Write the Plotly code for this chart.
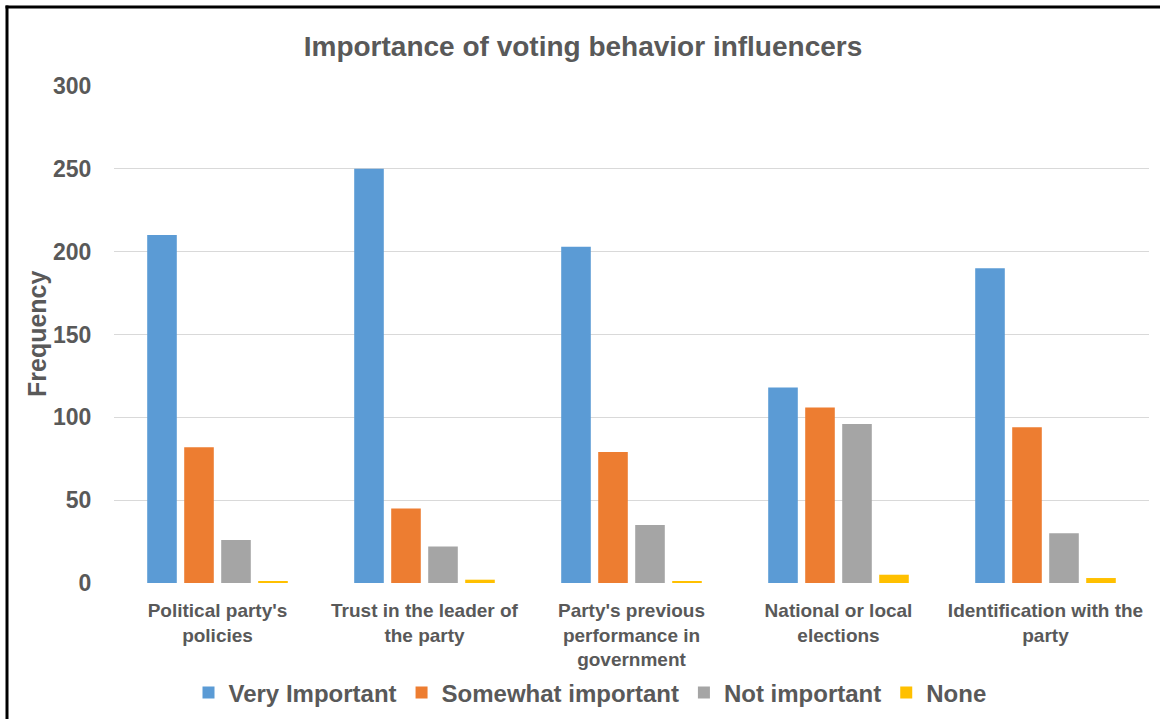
import plotly.graph_objects as go

# Survey responses: how important each factor is to respondents' vote
categories = [
    "Political party's<br>policies",
    "Trust in the leader of<br>the party",
    "Party's previous<br>performance in<br>government",
    "National or local<br>elections",
    "Identification with the<br>party",
]
very_important = [210, 250, 203, 118, 190]
somewhat_important = [82, 45, 79, 106, 94]
not_important = [26, 22, 35, 96, 30]
none_values = [1, 2, 1, 5, 3]

series = [
    ("Very Important", very_important, "#5B9BD5"),
    ("Somewhat important", somewhat_important, "#ED7D31"),
    ("Not important", not_important, "#A5A5A5"),
    ("None", none_values, "#FFC000"),
]

TEXT = "#595959"
FONT = "Liberation Sans, Arial, sans-serif"

W, H = 1160, 719
L, R, T, B = 114, 11, 86, 136
PW, PH = W - L - R, H - T - B


def px_x(x):
    return (x - L) / PW


def px_y(y):
    return (H - B - y) / PH


fig = go.Figure()
for name, vals, color in series:
    fig.add_trace(go.Bar(
        x=categories, y=vals, name=name,
        marker=dict(color=color, line=dict(width=0)),
    ))

fig.update_layout(
    width=W, height=H,
    margin=dict(l=L, r=R, t=T, b=B, autoexpand=False),
    paper_bgcolor="white", plot_bgcolor="white",
    barmode="group", bargap=0.285, bargroupgap=0.2,
    font=dict(family=FONT, color=TEXT),
    title=dict(
        text="Importance of voting behavior influencers",
        x=583 / W, xanchor="center", xref="container",
        y=1 - 46 / H, yanchor="middle", yref="container",
        font=dict(size=28, color=TEXT, family=FONT, weight="bold"),
    ),
    xaxis=dict(
        showgrid=False, showline=False, zeroline=False, automargin=False,
        ticks="outside", ticklen=10, tickcolor="rgba(0,0,0,0)",
        tickfont=dict(size=19, color=TEXT, family=FONT, weight="bold"),
    ),
    yaxis=dict(
        range=[0, 300], dtick=50, automargin=False,
        showgrid=True, gridcolor="#D9D9D9", gridwidth=1,
        zeroline=False, showline=False,
        ticks="outside", ticklen=17, tickcolor="rgba(0,0,0,0)",
        tickfont=dict(size=23, color=TEXT, family=FONT, weight="bold"),
    ),
    legend=dict(
        orientation="h", x=px_x(590), xanchor="center",
        y=px_y(693), yanchor="middle",
        font=dict(size=24, color=TEXT, family=FONT, weight="bold"),
        itemwidth=30, tracegroupgap=0,
    ),
)

# Rotated axis title
fig.add_annotation(
    text="Frequency", textangle=-90, showarrow=False,
    xref="paper", yref="paper", x=px_x(37), y=px_y(334),
    xanchor="center", yanchor="middle",
    font=dict(size=25, color=TEXT, family=FONT, weight="bold"),
)

# Frame along the left and top edges
fig.add_shape(type="line", xref="paper", yref="paper",
              x0=px_x(7), x1=px_x(7), y0=px_y(5.5), y1=px_y(730),
              line=dict(color="black", width=3))
fig.add_shape(type="line", xref="paper", yref="paper",
              x0=px_x(5.5), x1=px_x(1170), y0=px_y(7), y1=px_y(7),
              line=dict(color="black", width=3))

fig.write_html("out.html")
